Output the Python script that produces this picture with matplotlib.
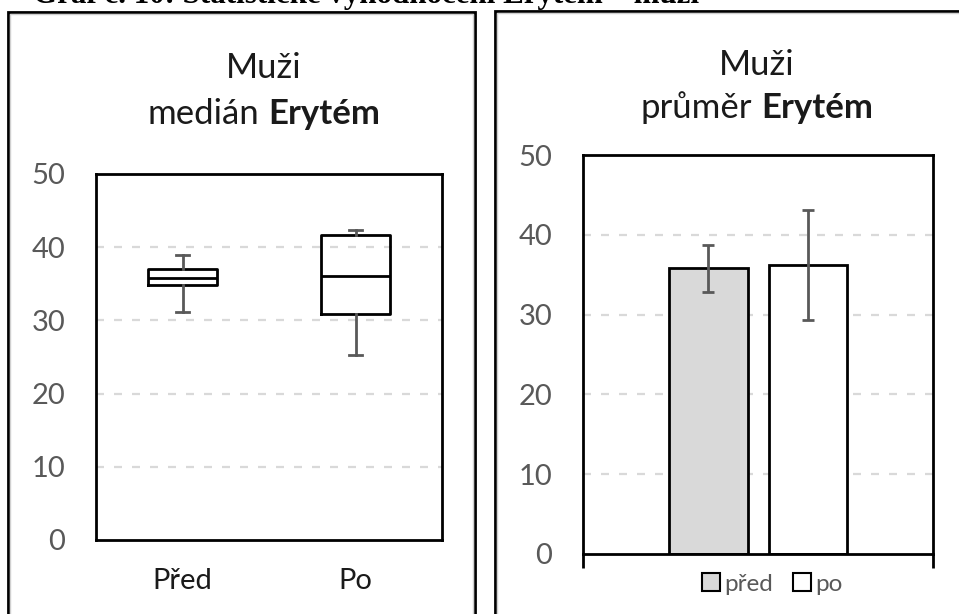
import matplotlib
matplotlib.use("Agg")
import matplotlib.pyplot as plt
from matplotlib.patches import Rectangle
from matplotlib.lines import Line2D

# data
box_labels = ["Před", "Po"]
box_min = [31.1, 25.3]
box_q1 = [34.8, 30.9]
box_med = [35.8, 36.0]
box_q3 = [37.0, 41.7]
box_max = [39.0, 42.4]

bar_labels = ["před", "po"]
bar_means = [35.8, 36.2]
bar_errs = [2.95, 6.9]
bar_colors = ["#d9d9d9", "#ffffff"]

y_ticks = [0, 10, 20, 30, 40, 50]
heading = "Graf č. 10: Statistické vyhodnocení Erytém – muži"

W, H = 959, 614
SANS = ["Lato", "DejaVu Sans"]
GRAY = "#595959"
GRID = "#d9d9d9"

fig = plt.figure(figsize=(W / 100, H / 100), dpi=100)


def fx(px):
    return px / W


def fy(py):
    return 1 - py / H


def style_axis(ax):
    ax.set_ylim(0, 50)
    ax.set_yticks(y_ticks)
    ax.tick_params(axis="y", length=0, pad=22, labelsize=21, labelcolor=GRAY)
    for lab in ax.get_yticklabels():
        lab.set_family(SANS)
    for y in y_ticks[1:-1]:
        ax.axhline(y, color=GRID, lw=1.6, dashes=(3.6, 4.5), zorder=0)
    for sp in ax.spines.values():
        sp.set_linewidth(2)
        sp.set_color("black")


def mixed_title(xc, y_base, parts, size):
    renderer = fig.canvas.get_renderer()
    texts = []
    for s, w in parts:
        t = fig.text(0, fy(y_base), s, fontsize=size, weight=w, family=SANS,
                     color="#1a1a1a", va="baseline", ha="left")
        texts.append(t)
    probe = fig.text(0, 0, "a a", fontsize=size, family=SANS)
    probe2 = fig.text(0, 0, "aa", fontsize=size, family=SANS)
    space = probe.get_window_extent(renderer).width - probe2.get_window_extent(renderer).width
    probe.remove()
    probe2.remove()
    widths = [t.get_window_extent(renderer).width for t in texts]
    total = sum(widths) + space * (len(texts) - 1)
    x = xc - total / 2
    for t, w in zip(texts, widths):
        t.set_x(fx(x))
        x += w + space


# panel frames
for x0, x1, y0 in [(8, 475, 12), (495, 975, 11)]:
    fig.add_artist(Rectangle((fx(x0), fy(H + 10)), fx(x1 - x0), (H + 10 - y0) / H,
                             transform=fig.transFigure, fill=False, ec="black", lw=2))
    fig.add_artist(Rectangle((fx(x0 + 2), fy(H + 10)), fx(x1 - x0 - 4), (H + 8 - y0) / H,
                             transform=fig.transFigure, fill=False, ec="#d0d0d0", lw=1))

fig.text(fx(33), fy(3.5), heading, family="Liberation Serif", weight="bold",
         fontsize=22.3, va="baseline", ha="left")

# left: box plot of medians
ax1 = fig.add_axes([fx(96), fy(540), fx(346), (540 - 174) / H])
style_axis(ax1)
stats = []
for i, lab in enumerate(box_labels):
    stats.append({"label": lab, "whislo": box_min[i], "q1": box_q1[i], "med": box_med[i],
                  "q3": box_q3[i], "whishi": box_max[i], "fliers": []})
ax1.bxp(stats, positions=[1, 2], widths=0.4, capwidths=0.07, showfliers=False,
        boxprops=dict(color="black", lw=2), medianprops=dict(color="black", lw=2),
        whiskerprops=dict(color=GRAY, lw=2), capprops=dict(color=GRAY, lw=2))
ax1.set_xlim(0.5, 2.5)
ax1.tick_params(axis="x", length=0, pad=20, labelsize=21, labelcolor="#1a1a1a")
for lab in ax1.get_xticklabels():
    lab.set_family(SANS)

mixed_title(264, 78, [("Muži", "normal")], 25)
mixed_title(264, 124, [("medián", "normal"), ("Erytém", "bold")], 25)

# right: bar chart of means with error bars
ax2 = fig.add_axes([fx(583), fy(554), fx(350), (554 - 155) / H])
style_axis(ax2)
offsets = [-0.142, 0.142]
for i, lab in enumerate(bar_labels):
    ax2.bar(offsets[i], bar_means[i], width=0.224, color=bar_colors[i], edgecolor="black",
            lw=2, zorder=2)
    ax2.errorbar(offsets[i], bar_means[i], yerr=bar_errs[i], fmt="none", ecolor=GRAY,
                 elinewidth=2, capsize=4.3, capthick=2, zorder=3)
ax2.set_xlim(-0.5, 0.5)
ax2.set_xticks([-0.5, 0.5])
ax2.set_xticklabels([])
ax2.tick_params(axis="x", length=10, width=2, color="black", direction="out")

mixed_title(757, 75, [("Muži", "normal")], 25)
mixed_title(757, 118, [("průměr", "normal"), ("Erytém", "bold")], 25)

handles = [Line2D([], [], ls="none", marker="s", markersize=13, markerfacecolor=c,
                  markeredgecolor="black", markeredgewidth=1.5) for c in bar_colors]
leg = fig.legend(handles, bar_labels, loc="center", bbox_to_anchor=(fx(772), fy(584)),
                 ncol=2, frameon=False, handlelength=0.8, handletextpad=0.15,
                 columnspacing=0.8, prop={"family": SANS, "size": 17.5})
for t in leg.get_texts():
    t.set_color(GRAY)

fig.savefig("out.png", dpi=100)
